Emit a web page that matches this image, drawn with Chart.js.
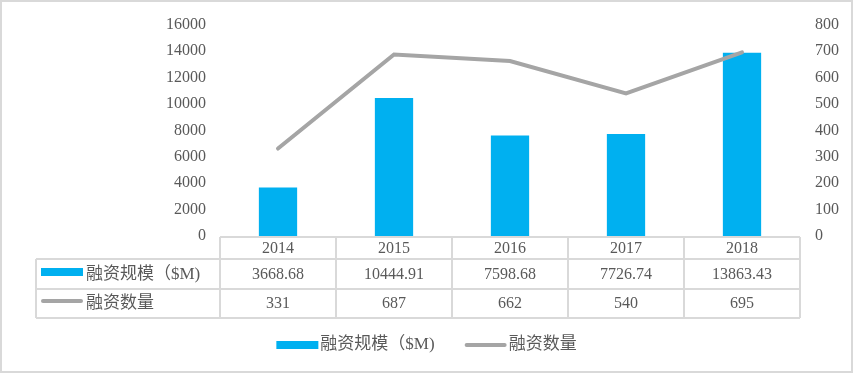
<!DOCTYPE html>
<html>
<head>
<meta charset="utf-8">
<script src="https://cdn.jsdelivr.net/npm/chart.js@4/dist/chart.umd.min.js"></script>
<style>
  html, body { margin: 0; padding: 0; background: #fff; }
  #wrap { position: relative; width: 854px; height: 374px; }
</style>
</head>
<body>
<div id="wrap"><canvas id="chart"></canvas></div>
<script>
// 数据
const years = ['2014', '2015', '2016', '2017', '2018'];
const fundingSize = [3668.68, 10444.91, 7598.68, 7726.74, 13863.43];
const fundingCount = [331, 687, 662, 540, 695];
const sizeLabel = '融资规模（$M)';
const countLabel = '融资数量';

const numFont = '"Liberation Serif", "Times New Roman", serif';
const cjkFont = '"Liberation Serif", "Noto Sans CJK SC", serif';
const textColor = '#595959';
const gridColor = '#d9d9d9';

// 画图例样式（方块或线条）
function drawSwatch(ctx, ds, x, y, w) {
    if (ds.type === 'line') {
        ctx.strokeStyle = ds.borderColor;
        ctx.lineWidth = 4;
        ctx.lineCap = 'round';
        ctx.beginPath();
        ctx.moveTo(x + 2, y);
        ctx.lineTo(x + w - 2, y);
        ctx.stroke();
    } else {
        ctx.fillStyle = ds.backgroundColor;
        ctx.fillRect(x, y - 4, w, 8);
    }
}

// 数据表 + 底部图例 + 外框
const tablePlugin = {
    id: 'dataTable',
    afterDraw(chart) {
        const ctx = chart.ctx;
        const xs = chart.scales.x;
        const area = chart.chartArea;
        const step = xs.getPixelForValue(1) - xs.getPixelForValue(0);
        const tLeft = 36;
        const rows = [area.bottom + 1, 259, 289, 318];
        const right = xs.getPixelForValue(years.length - 1) + step / 2;

        ctx.save();
        ctx.strokeStyle = gridColor;
        ctx.lineWidth = 2;
        ctx.lineCap = 'butt';
        ctx.beginPath();
        ctx.moveTo(area.left, rows[0]); ctx.lineTo(right, rows[0]);
        for (let r = 1; r < rows.length; r++) {
            ctx.moveTo(tLeft, rows[r]); ctx.lineTo(right, rows[r]);
        }
        ctx.moveTo(tLeft, rows[1]); ctx.lineTo(tLeft, rows[3]);
        for (let i = 0; i <= years.length; i++) {
            const bx = xs.getPixelForValue(0) - step / 2 + i * step;
            ctx.moveTo(bx, rows[0]); ctx.lineTo(bx, rows[3]);
        }
        ctx.stroke();

        // 表格文字
        ctx.fillStyle = textColor;
        ctx.font = '16px ' + numFont;
        ctx.textAlign = 'center';
        ctx.textBaseline = 'middle';
        years.forEach((yr, i) => {
            const cx = xs.getPixelForValue(i);
            ctx.fillText(yr, cx, 249);
            ctx.fillText(fundingSize[i].toFixed(2), cx, 275);
            ctx.fillText(String(fundingCount[i]), cx, 304);
        });

        // 左侧系列名
        const dsets = chart.data.datasets;
        const rowMid = [275, 304];
        ctx.textAlign = 'left';
        ctx.font = '17px ' + cjkFont;
        dsets.forEach((ds, k) => {
            drawSwatch(ctx, ds, 41, rowMid[k] - 3, 42);
            ctx.fillStyle = textColor;
            ctx.fillText(ds.label, 86, rowMid[k]);
        });

        // 底部图例
        const ly = 345;
        const items = dsets.map(ds => ({ ds, w: 42 + 2 + ctx.measureText(ds.label).width }));
        const gap = 30;
        const total = items.reduce((s, it) => s + it.w, 0) + gap * (items.length - 1);
        let lx = 426.5 - total / 2;
        items.forEach(it => {
            drawSwatch(ctx, it.ds, lx, ly, 42);
            ctx.fillStyle = textColor;
            ctx.fillText(it.ds.label, lx + 44, ly);
            lx += it.w + gap;
        });

        // 外框
        ctx.strokeStyle = gridColor;
        ctx.lineWidth = 2;
        ctx.strokeRect(1, 1, chart.width - 3, chart.height - 3);
        ctx.restore();
    }
};

new Chart(document.getElementById('chart'), {
    type: 'bar',
    data: {
        labels: years,
        datasets: [{
            type: 'bar',
            label: sizeLabel,
            data: fundingSize,
            backgroundColor: '#00B0F0',
            barPercentage: 0.33,
            categoryPercentage: 1,
            yAxisID: 'y',
            order: 2
        }, {
            type: 'line',
            label: countLabel,
            data: fundingCount,
            borderColor: '#A5A5A5',
            backgroundColor: '#A5A5A5',
            borderWidth: 4,
            borderCapStyle: 'round',
            pointRadius: 0,
            tension: 0,
            yAxisID: 'y1',
            order: 1
        }]
    },
    options: {
        responsive: true,
        maintainAspectRatio: false,
        animation: false,
        layout: { padding: { top: 23, left: 0, right: 0, bottom: 0 } },
        plugins: {
            legend: { display: false },
            tooltip: { enabled: false }
        },
        scales: {
            x: {
                grid: { display: false },
                border: { display: false },
                ticks: { display: false },
                afterFit(scale) { scale.height = 138; }
            },
            y: {
                position: 'left',
                min: 0,
                max: 16000,
                grid: { display: false, drawTicks: false },
                border: { display: false },
                ticks: {
                    stepSize: 2000,
                    color: textColor,
                    font: { family: numFont, size: 16 },
                    padding: 14,
                    callback: v => String(v)
                },
                afterFit(scale) { scale.width = 220; }
            },
            y1: {
                position: 'right',
                min: 0,
                max: 800,
                grid: { display: false, drawTicks: false },
                border: { display: false },
                ticks: {
                    stepSize: 100,
                    color: textColor,
                    font: { family: numFont, size: 16 },
                    padding: 15,
                    callback: v => String(v)
                },
                afterFit(scale) { scale.width = 54; }
            }
        }
    },
    plugins: [tablePlugin]
});
</script>
</body>
</html>
